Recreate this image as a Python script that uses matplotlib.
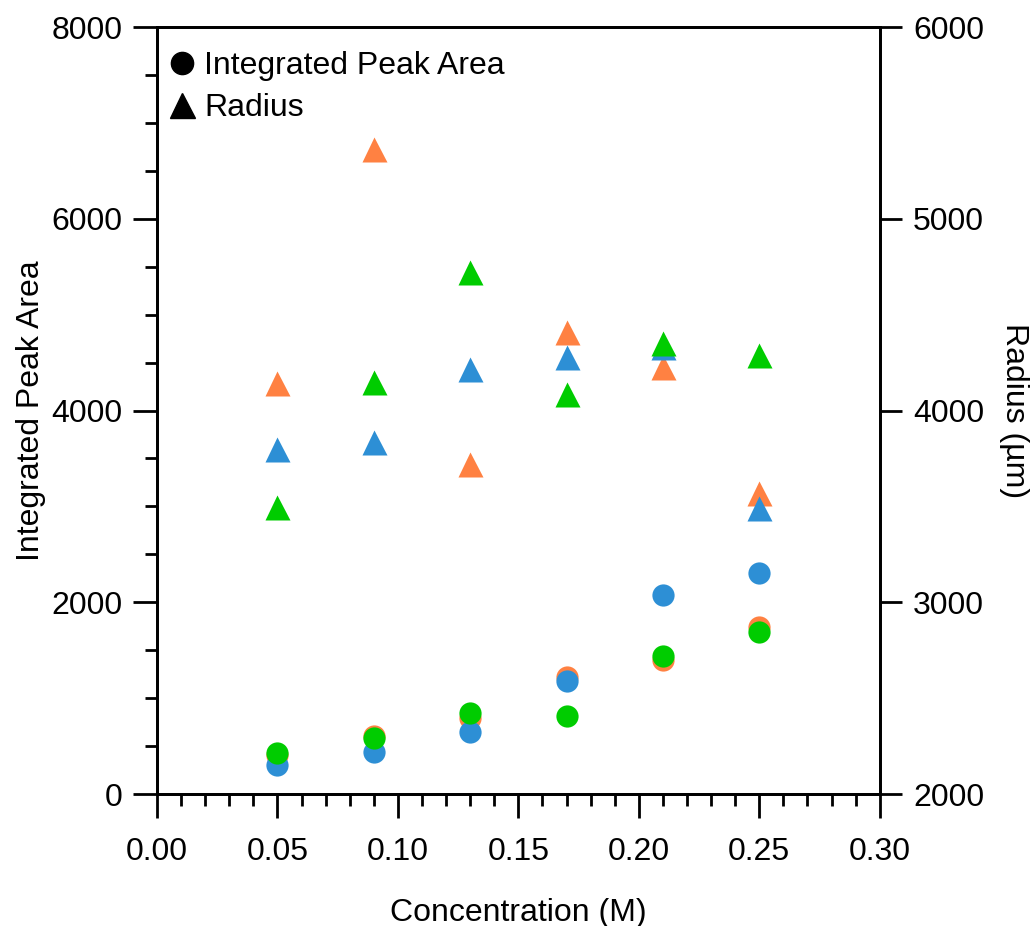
import numpy as np
import matplotlib.pyplot as plt
from matplotlib.lines import Line2D
from matplotlib.ticker import MultipleLocator

plt.rcParams['font.family'] = ['Liberation Sans', 'DejaVu Sans']

conc = [0.05, 0.09, 0.13, 0.17, 0.21, 0.25]

# integrated peak area (left axis)
area_orange = [410, 605, 790, 1217, 1398, 1745]
area_blue = [302, 435, 650, 1182, 2076, 2302]
area_green = [428, 581, 842, 814, 1440, 1693]

# radius in um (right axis)
rad_orange = [4146, 5364, 3719, 4409, 4225, 3568]
rad_blue = [3799, 3834, 4216, 4277, 4330, 3491]
rad_green = [3497, 4150, 4724, 4084, 4350, 4288]

c_orange = '#FF8142'
c_blue = '#2D8FD5'
c_green = '#00CC00'

fs = 23
lw = 2.0

fig = plt.figure(figsize=(10.31, 9.26), dpi=100)
ax = fig.add_axes([0.1523, 0.1425, 0.701, 0.8283])
ax2 = ax.twinx()

for y, c in [(area_orange, c_orange), (area_blue, c_blue), (area_green, c_green)]:
    ax.plot(conc, y, 'o', color=c, ms=16, mec='none', clip_on=False)
for y, c in [(rad_orange, c_orange), (rad_blue, c_blue), (rad_green, c_green)]:
    ax2.plot(conc, y, '^', color=c, ms=18, mec='none', clip_on=False)

ax.set_xlim(0, 0.30)
ax.set_ylim(0, 8000)
ax2.set_ylim(2000, 6000)

ax.xaxis.set_major_locator(MultipleLocator(0.05))
ax.xaxis.set_minor_locator(MultipleLocator(0.01))
ax.yaxis.set_major_locator(MultipleLocator(2000))
ax.yaxis.set_minor_locator(MultipleLocator(500))
ax2.yaxis.set_major_locator(MultipleLocator(1000))
ax.xaxis.set_major_formatter(plt.FuncFormatter(lambda v, p: f'{v:.2f}'))

ax.tick_params(axis='x', which='major', length=17, width=lw, labelsize=fs, pad=14)
ax.tick_params(axis='x', which='minor', length=8.5, width=lw)
ax.tick_params(axis='y', which='major', length=17, width=lw, labelsize=fs, pad=8)
ax.tick_params(axis='y', which='minor', length=8.5, width=lw)
ax2.tick_params(axis='y', which='major', length=16, width=lw, labelsize=fs, pad=8)

for a in (ax, ax2):
    for s in a.spines.values():
        s.set_linewidth(lw)

ax.set_xlabel('Concentration (M)', fontsize=fs, labelpad=22)
ax.set_ylabel('Integrated Peak Area', fontsize=fs, labelpad=4)
ax2.set_ylabel('Radius (µm)', fontsize=fs, rotation=270, labelpad=32)

handles = [
    Line2D([], [], marker='o', ls='none', color='black', ms=16),
    Line2D([], [], marker='^', ls='none', color='black', ms=18),
]
ax.legend(handles, ['Integrated Peak Area', 'Radius'], loc='upper left',
          bbox_to_anchor=(-0.01, 0.985), frameon=False, fontsize=fs,
          handletextpad=0.1, borderaxespad=0.1, labelspacing=0.38,
          handlelength=1.2, borderpad=0.3)

fig.savefig('out.png', dpi=100)
